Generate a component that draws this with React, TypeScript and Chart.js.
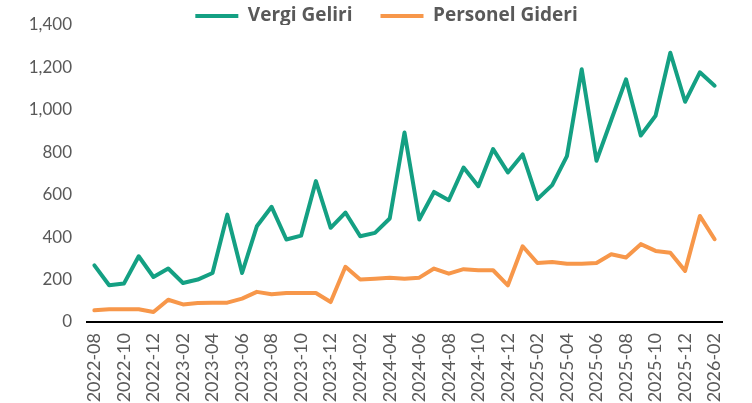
import React, { useEffect, useRef } from "react";
import { Chart, registerables } from "chart.js";
Chart.register(...registerables);

const months = [
  "2022-08", "2022-09", "2022-10", "2022-11", "2022-12",
  "2023-01", "2023-02", "2023-03", "2023-04", "2023-05", "2023-06", "2023-07",
  "2023-08", "2023-09", "2023-10", "2023-11", "2023-12",
  "2024-01", "2024-02", "2024-03", "2024-04", "2024-05", "2024-06", "2024-07",
  "2024-08", "2024-09", "2024-10", "2024-11", "2024-12",
  "2025-01", "2025-02", "2025-03", "2025-04", "2025-05", "2025-06", "2025-07",
  "2025-08", "2025-09", "2025-10", "2025-11", "2025-12",
  "2026-01", "2026-02",
];

const vergiGeliri = [
  267, 173, 181, 310, 212, 252, 184, 200, 231, 506, 231, 451, 543, 389, 407,
  664, 444, 516, 404, 420, 488, 893, 483, 613, 574, 728, 640, 815, 705, 790,
  579, 645, 782, 1191, 760, 952, 1144, 879, 972, 1269, 1038, 1177, 1114,
];

const personelGideri = [
  55, 60, 60, 60, 47, 105, 83, 90, 91, 91, 110, 142, 131, 137, 137, 137, 94,
  260, 200, 204, 209, 204, 209, 252, 228, 249, 244, 244, 173, 357, 278, 283,
  275, 275, 278, 319, 304, 367, 335, 326, 241, 500, 390,
];

const seriesNames = ["Vergi Geliri", "Personel Gideri"];
const yMin = 0;
const yMax = 1400;
const yStep = 200;

const GREEN = "#14a083";
const ORANGE = "#f7974a";
const TEXT = "#595959";
const FONT = "Lato, 'Open Sans', sans-serif";
const LEGEND_FONT = "'Open Sans', Lato, sans-serif";

const LEGEND_PAD = 28;
const LEGEND_SIZE = 19;
const PAD_TOP = 16 - LEGEND_PAD - LEGEND_SIZE / 2;
const LEGEND_HEIGHT = 25 - PAD_TOP;
const LEGEND_LEFT = 51;
const PAD_RIGHT = 30;

const legendFitPlugin = {
  id: "legendFit",
  afterInit(chart: any) {
    const lg = chart.legend;
    if (!lg || lg.__patched) return;
    const orig = lg.fit.bind(lg);
    lg.fit = function () {
      orig();
      this.height = LEGEND_HEIGHT;
    };
    lg.__patched = true;
  },
  afterLayout(chart: any) {
    const lg = chart.legend;
    if (lg) lg.left = LEGEND_LEFT;
  },
};

export default function App() {
  const ref = useRef<HTMLCanvasElement | null>(null);

  useEffect(() => {
    if (!ref.current) return;
    const chart = new Chart(ref.current, {
      type: "line",
      data: {
        labels: months,
        datasets: [
          {
            label: seriesNames[0],
            data: vergiGeliri,
            borderColor: GREEN,
            backgroundColor: GREEN,
            borderWidth: 4,
            pointRadius: 0,
            tension: 0,
            borderJoinStyle: "round",
            borderCapStyle: "round",
          },
          {
            label: seriesNames[1],
            data: personelGideri,
            borderColor: ORANGE,
            backgroundColor: ORANGE,
            borderWidth: 4,
            pointRadius: 0,
            tension: 0,
            borderJoinStyle: "round",
            borderCapStyle: "round",
          },
        ],
      },
      plugins: [legendFitPlugin],
      options: {
        animation: false,
        responsive: true,
        maintainAspectRatio: false,
        layout: { padding: { left: 0, right: PAD_RIGHT, top: PAD_TOP, bottom: 0 } },
        plugins: {
          tooltip: { enabled: false },
          legend: {
            position: "top",
            labels: {
              usePointStyle: true,
              pointStyle: "line",
              pointStyleWidth: 43,
              color: TEXT,
              padding: LEGEND_PAD,
              font: { family: LEGEND_FONT, size: LEGEND_SIZE, weight: "bold" },
            },
          },
        },
        scales: {
          x: {
            offset: true,
            grid: { display: false },
            border: { display: true, color: "#000000", width: 2 },
            ticks: {
              autoSkip: false,
              maxRotation: 90,
              minRotation: 90,
              padding: 3,
              color: TEXT,
              font: { family: FONT, size: 18 },
              callback: (_v: any, i: number) => (i % 2 === 0 ? months[i] : ""),
            },
            afterFit: (s: any) => {
              s.height = 81;
            },
          },
          y: {
            min: yMin,
            max: yMax,
            grid: { display: false },
            border: { display: false },
            ticks: {
              stepSize: yStep,
              padding: 7,
              color: TEXT,
              font: { family: FONT, size: 17 },
              callback: (v: any) => Number(v).toLocaleString("en-US"),
            },
            afterFit: (s: any) => {
              s.width = 87;
            },
          },
        },
      },
    });
    return () => chart.destroy();
  }, []);

  return (
    <div style={{ position: "fixed", left: 0, top: 0, width: 752, height: 403 }}>
      <canvas ref={ref} />
    </div>
  );
}
